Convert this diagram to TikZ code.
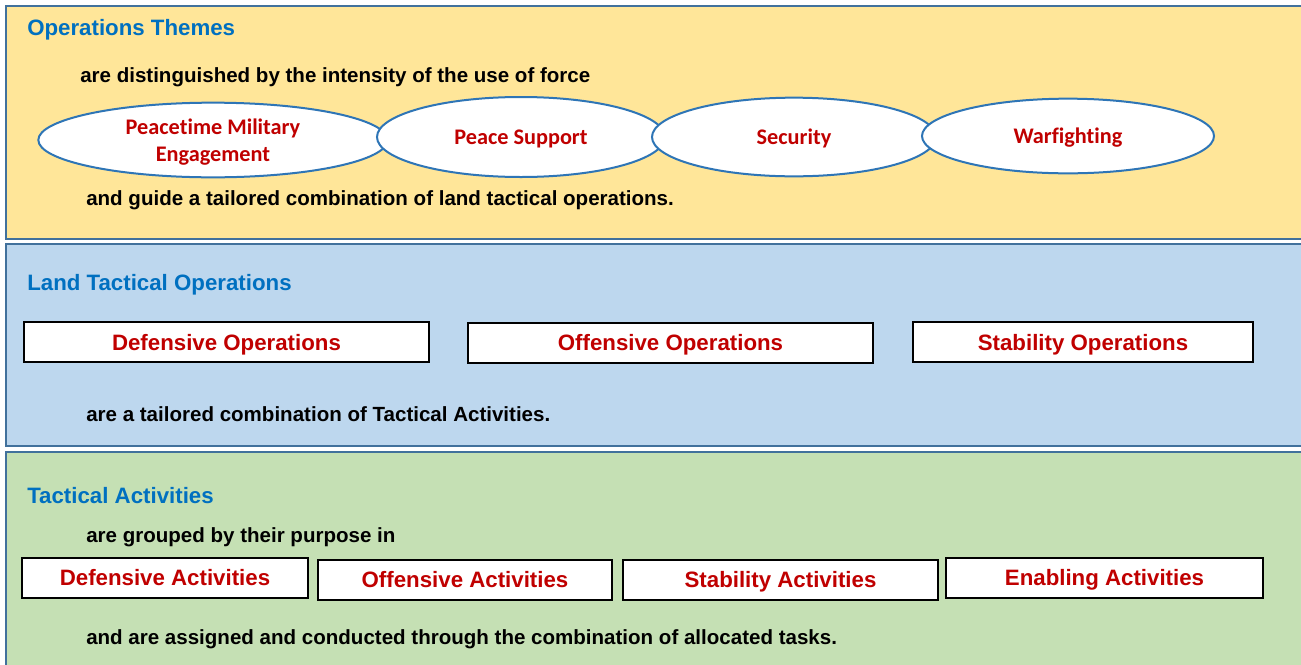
\documentclass[tikz,border=0pt]{standalone}
\usepackage{fontspec}
\setmainfont{Liberation Sans}
\newfontfamily\carlito[Ligatures=NoCommon]{Carlito}
\usetikzlibrary{shapes.geometric}
\definecolor{bandline}{HTML}{41719C}
\definecolor{yellowband}{HTML}{FFE699}
\definecolor{blueband}{HTML}{BDD7EE}
\definecolor{greenband}{HTML}{C5E0B4}
\definecolor{ellblue}{HTML}{2E75B6}
\definecolor{titleblue}{HTML}{0070C0}
\definecolor{darkred}{HTML}{C00000}

\begin{document}
\begin{tikzpicture}[x=0.75pt,y=-0.75pt,
	band/.style={draw=bandline, line width=1.5pt},
	title/.style={anchor=west, inner sep=0pt, text=titleblue, font=\bfseries\fontsize{16.7}{20}\selectfont},
	body/.style={anchor=west, inner sep=0pt, font=\bfseries\fontsize{15.4}{18}\selectfont},
	theme/.style={ellipse, draw=ellblue, line width=1.5pt, fill=white, inner sep=0pt, align=center, text depth=0pt, text=darkred, font=\carlito\bfseries\fontsize{16.7}{20.3}\selectfont},
	opbox/.style={rectangle, draw=black, line width=1.5pt, fill=white, inner sep=0pt, minimum height=30pt, text depth=0pt, text=darkred, font=\bfseries\fontsize{16.7}{20}\selectfont}]
			\useasboundingbox (0,0) rectangle (1301,664);
			
			%drawing the bands
			\draw[band, fill=yellowband] (6,6) rectangle (1330,239);
			\draw[band, fill=blueband] (6,244) rectangle (1330,446);
			\draw[band, fill=greenband] (6,452) rectangle (1330,690);
			
			%operations themes
			\node[title] (ot) at (27,29.5) {Operations Themes};
			\node[body] (otup) at (80,77) {are distinguished by the intensity of the use of force};
			\node[theme, minimum width=262pt, minimum height=56pt] (pme) at (213,140) {Peacetime Military\\Engagement};
			\node[theme, minimum width=216pt, minimum height=60pt] (ps) at (521,137) {Peace Support};
			\node[theme, minimum width=213pt, minimum height=59pt] (sec) at (794,137) {Security};
			\node[theme, minimum width=219pt, minimum height=56pt] (wf) at (1068,136) {Warfighting};
			\node[body] (otdown) at (86,200) {and guide a tailored combination of land tactical operations.};
			
			%land tactical operations
			\node[title] (lto) at (27,284.5) {Land Tactical Operations};
			\node[opbox, minimum width=304pt] (defop) at (226.5,342) {Defensive Operations};
			\node[opbox, minimum width=304pt] (offop) at (670.5,342.5) {Offensive Operations};
			\node[opbox, minimum width=255pt] (stabop) at (1083,342) {Stability Operations};
			\node[body] (ltodown) at (86,414) {are a tailored combination of Tactical Activities.};
			
			%tactical activities
			\node[title] (ta) at (27,496) {Tactical Activities};
			\node[body] (taup) at (86,537) {are grouped by their purpose in};
			\node[opbox, minimum width=214.5pt] (defact) at (165,577.5) {Defensive Activities};
			\node[opbox, minimum width=220.5pt] (offact) at (465,579.5) {Offensive Activities};
			\node[opbox, minimum width=236pt] (stabact) at (780.5,579.5) {Stability Activities};
			\node[opbox, minimum width=238pt] (enact) at (1104.5,577.5) {Enabling Activities};
			\node[body] (tadown) at (86,639) {and are assigned and conducted through the combination of allocated tasks.};
		\end{tikzpicture}
\end{document}
